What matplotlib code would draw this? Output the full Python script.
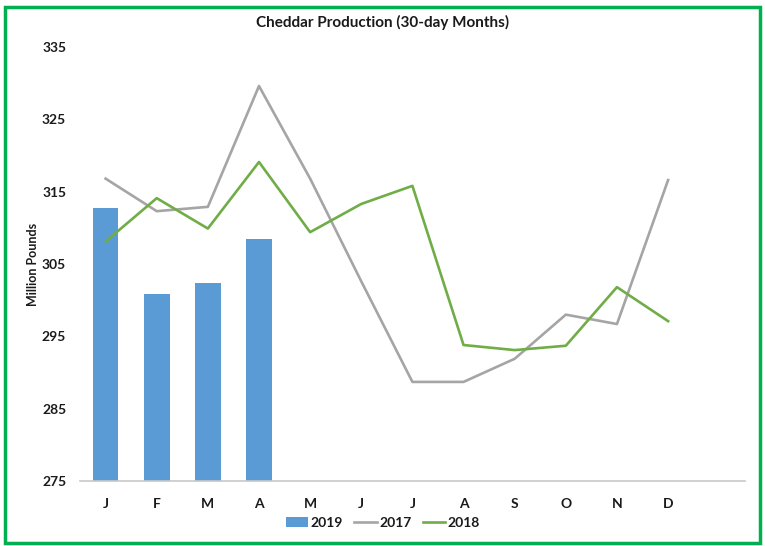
import matplotlib
matplotlib.use('Agg')
import matplotlib.pyplot as plt
from matplotlib.patches import Rectangle
import numpy as np

plt.rcParams['font.family'] = ['Lato', 'DejaVu Sans']

# 月份（第13格留空）
months = ['J', 'F', 'M', 'A', 'M', 'J', 'J', 'A', 'S', 'O', 'N', 'D', '']
vals_2019 = [312.8, 300.9, 302.4, 308.5]
vals_2017 = [316.8, 312.3, 312.9, 329.6, 316.8, 302.6, 288.7, 288.7, 291.9, 298.0, 296.7, 316.6]
vals_2018 = [308.1, 314.1, 309.9, 319.1, 309.4, 313.3, 315.8, 293.8, 293.1, 293.7, 301.8, 297.1]
yticks = [275, 285, 295, 305, 315, 325, 335]

fig = plt.figure(figsize=(7.65, 5.46), dpi=100)
ax = fig.add_axes([0.1046, 0.119, 0.869, 0.795])

x = np.arange(len(months))
b19 = ax.bar(x[:len(vals_2019)], np.array(vals_2019) - 275, bottom=275, width=0.5,
             color='#5B9BD5', label='2019', zorder=2)
l17, = ax.plot(x[:len(vals_2017)], vals_2017, color='#A5A5A5', lw=1.9, label='2017', zorder=3)
l18, = ax.plot(x[:len(vals_2018)], vals_2018, color='#70AD47', lw=1.9, label='2018', zorder=4)

ax.set_xlim(-0.5, 12.5)
ax.set_ylim(275, 335)
ax.set_yticks(yticks)
ax.set_yticklabels([str(t) for t in yticks], fontsize=10, fontweight='bold', color='#1a1a1a')
ax.set_xticks(x)
ax.set_xticklabels(months, fontsize=10, fontweight='bold', color='#1a1a1a')
ax.tick_params(length=0)
ax.tick_params(axis='x', pad=12)
ax.tick_params(axis='y', pad=10)
for s in ['top', 'right', 'left']:
    ax.spines[s].set_visible(False)
ax.spines['bottom'].set_color('#C8C8C8')
ax.spines['bottom'].set_linewidth(1.2)

fig.text(33 / 765, 1 - 264 / 546, 'Million Pounds', rotation=90, ha='center', va='center',
         fontsize=9, fontweight='bold', color='#1a1a1a')
fig.text(0.5, 1 - 22 / 546, 'Cheddar Production (30-day Months)', ha='center', va='center',
         fontsize=11, fontweight='bold', color='#1a1a1a')

leg = fig.legend([b19, l17, l18], ['2019', '2017', '2018'], loc='center',
                 bbox_to_anchor=(383 / 765, 1 - 523 / 546), ncol=3, frameon=False,
                 prop={'weight': 'bold', 'size': 10}, handlelength=1.6,
                 handletextpad=0.2, columnspacing=0.8)
for t in leg.get_texts():
    t.set_color('#1a1a1a')

# 绿色外框
fig.patches.append(Rectangle((0.006, 0.006), 0.988, 0.982, transform=fig.transFigure,
                             fill=False, edgecolor='#00B050', lw=2.5))

fig.savefig('out.png', dpi=100)
